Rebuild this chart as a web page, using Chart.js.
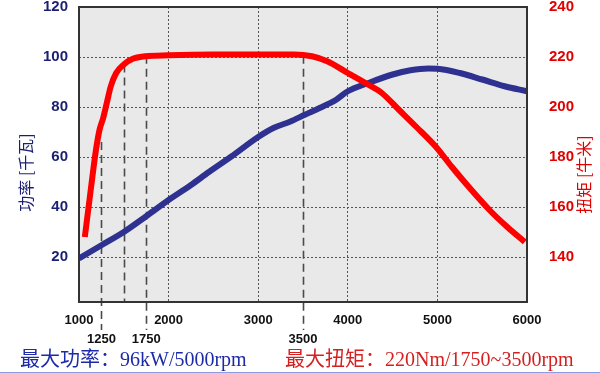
<!DOCTYPE html>
<html>
<head>
<meta charset="utf-8">
<script src="https://cdn.jsdelivr.net/npm/chart.js@4.4.1/dist/chart.umd.min.js"></script>
<style>
    html, body { margin: 0; padding: 0; background: #fff; }
    #wrap { width: 600px; height: 373px; position: relative; }
</style>
</head>
<body>
<div id="wrap"><canvas id="engineChart" width="600" height="373"></canvas></div>
<script>
// Torque curve (Nm, right axis)
const torqueRpm = [1065, 1135, 1190, 1230, 1270, 1310, 1355, 1415, 1500, 1600, 1740, 2000, 2500, 3000, 3400, 3600, 3770, 4000, 4230, 4380, 4570, 4760, 4980, 5160, 5380, 5600, 5780, 5975];
const torqueNm = [148, 168, 183, 191, 195.6, 201.6, 208.3, 213.6, 217, 219.3, 220.3, 220.7, 221, 221, 221, 220.3, 218.3, 213.6, 208.9, 205.6, 198.9, 192.2, 184.2, 176.1, 166.8, 158.1, 152, 146];

// Power curve (kW, left axis)
const powerRpm = [1000, 1250, 1500, 1750, 2000, 2250, 2450, 2700, 3000, 3170, 3360, 3520, 3685, 3870, 4000, 4230, 4500, 4700, 4900, 5000, 5250, 5500, 5750, 6000];
const powerKw = [19.4, 24.7, 30, 36.3, 42.8, 48.8, 54, 60.2, 68, 71.6, 74.2, 76.9, 79.6, 82.9, 86.3, 89.6, 93, 94.7, 95.4, 95.3, 93.6, 91, 88.3, 86.3];

// Axis ticks
const rpmTicks = [1000, 2000, 3000, 4000, 5000, 6000];
const powerTicks = [20, 40, 60, 80, 100, 120];
const torqueTicks = [140, 160, 180, 200, 220, 240];

// Marked rpm points (dashed drop lines) and where they start on the torque curve
const markerRpm = [1250, 1500, 1750, 3500];
const markerTop = [186, 217, 220.5, 220.5];
const markerLabels = ['1250', '', '1750', '3500'];

const powerTitle = '功率 [千瓦]';
const torqueTitle = '扭矩 [牛米]';
const powerNote = '最大功率：96kW/5000rpm';
const torqueNote = '最大扭矩：220Nm/1750~3500rpm';

const BLUE = '#2e3190';
const NAVY = '#1a1f72';
const RED = '#ff0000';
const DARK_RED = '#e00000';

const toPoints = (xs, ys) => xs.map((x, i) => ({ x: x, y: ys[i] }));

// kill the extra room Chart.js keeps for half-height tick labels
const noLabelPad = s => { s.paddingTop = 0; s.paddingBottom = 0; s.paddingLeft = 0; s.paddingRight = 0; };

const decorPlugin = {
    id: 'decor',
    beforeDraw(chart) {
        const { ctx, chartArea: a } = chart;
        ctx.save();
        ctx.fillStyle = '#e9e9e9';
        ctx.fillRect(a.left, a.top, a.right - a.left, a.bottom - a.top);
        ctx.restore();
    },
    beforeDatasetsDraw(chart) {
        // dashed drop lines from torque curve down past the axis
        const { ctx, chartArea: a, scales } = chart;
        ctx.save();
        ctx.strokeStyle = '#4a4a4a';
        ctx.lineWidth = 1.6;
        ctx.setLineDash([8, 5]);
        markerRpm.forEach((rpm, i) => {
            const x = Math.round(scales.x.getPixelForValue(rpm)) + 0.5;
            const top = scales.y2.getPixelForValue(markerTop[i]);
            const bottom = markerLabels[i] ? a.bottom + 28 : a.bottom;
            ctx.beginPath();
            ctx.moveTo(x, top);
            ctx.lineTo(x, bottom);
            ctx.stroke();
        });
        ctx.restore();
    },
    afterDraw(chart) {
        const { ctx, chartArea: a, scales } = chart;
        ctx.save();
        // frame
        ctx.strokeStyle = '#333';
        ctx.lineWidth = 2;
        ctx.strokeRect(a.left, a.top, a.right - a.left, a.bottom - a.top);

        // second row of rpm labels
        ctx.fillStyle = '#111';
        ctx.font = 'bold 13px "Liberation Sans", Arial, sans-serif';
        ctx.textAlign = 'center';
        ctx.textBaseline = 'middle';
        markerRpm.forEach((rpm, i) => {
            if (!markerLabels[i]) return;
            ctx.fillText(markerLabels[i], scales.x.getPixelForValue(rpm), a.bottom + 37);
        });

        // axis titles, both read bottom to top
        ctx.font = '16px "Noto Sans CJK SC", sans-serif';
        ctx.fillStyle = NAVY;
        ctx.translate(26, (a.top + a.bottom) / 2 + 18);
        ctx.rotate(-Math.PI / 2);
        ctx.fillText(powerTitle, 0, 0);
        ctx.setTransform(1, 0, 0, 1, 0, 0);
        ctx.fillStyle = DARK_RED;
        ctx.translate(584, (a.top + a.bottom) / 2 + 20);
        ctx.rotate(-Math.PI / 2);
        ctx.fillText(torqueTitle, 0, 0);
        ctx.setTransform(1, 0, 0, 1, 0, 0);

        // bottom notes
        ctx.textAlign = 'left';
        ctx.font = '20px "Liberation Serif", "Noto Sans CJK SC", serif';
        ctx.fillStyle = '#1d2aa8';
        ctx.fillText(powerNote, 20, 361);
        ctx.fillStyle = '#d42020';
        ctx.fillText(torqueNote, 285, 361);

        // thin rule at the very bottom
        ctx.strokeStyle = '#8c9be0';
        ctx.lineWidth = 1;
        ctx.beginPath();
        ctx.moveTo(0, 372.5);
        ctx.lineTo(600, 372.5);
        ctx.stroke();
        ctx.restore();
    }
};

new Chart(document.getElementById('engineChart'), {
    type: 'line',
    data: {
        datasets: [{
            label: 'Torque',
            data: toPoints(torqueRpm, torqueNm),
            yAxisID: 'y2',
            borderColor: RED,
            borderWidth: 6,
            borderCapStyle: 'butt',
            cubicInterpolationMode: 'monotone',
            pointRadius: 0,
            fill: false
        }, {
            label: 'Power',
            data: toPoints(powerRpm, powerKw),
            yAxisID: 'y',
            borderColor: BLUE,
            borderWidth: 6,
            borderCapStyle: 'butt',
            cubicInterpolationMode: 'monotone',
            pointRadius: 0,
            fill: false
        }]
    },
    options: {
        responsive: false,
        animation: false,
        layout: { padding: { top: 7, left: 0, right: 0, bottom: 0 } },
        plugins: { legend: { display: false }, tooltip: { enabled: false } },
        scales: {
            x: {
                type: 'linear',
                min: 1000,
                max: 6000,
                afterBuildTicks: s => { s.ticks = rpmTicks.map(v => ({ value: v })); },
                afterFit: s => { s.height = 71; noLabelPad(s); },
                grid: { color: '#555', lineWidth: 1, drawTicks: false },
                border: { display: false, dash: [2, 2] },
                ticks: {
                    padding: 11,
                    maxRotation: 0,
                    color: '#111',
                    callback: v => String(v),
                    font: { family: '"Liberation Sans", Arial, sans-serif', size: 13, weight: 'bold' }
                }
            },
            y: {
                position: 'left',
                min: 2,
                max: 120,
                afterBuildTicks: s => { s.ticks = powerTicks.map(v => ({ value: v })); },
                afterFit: s => { s.width = 79; noLabelPad(s); },
                grid: { color: '#555', lineWidth: 1, drawTicks: false },
                border: { display: false, dash: [2, 2] },
                ticks: {
                    padding: 11,
                    color: NAVY,
                    font: { family: '"Liberation Sans", Arial, sans-serif', size: 15, weight: 'bold' }
                }
            },
            y2: {
                position: 'right',
                min: 122,
                max: 240,
                afterBuildTicks: s => { s.ticks = torqueTicks.map(v => ({ value: v })); },
                afterFit: s => { s.width = 73; noLabelPad(s); },
                grid: { display: false },
                border: { display: false },
                ticks: {
                    padding: 14,
                    color: DARK_RED,
                    font: { family: '"Liberation Sans", Arial, sans-serif', size: 15, weight: 'bold' }
                }
            }
        }
    },
    plugins: [decorPlugin]
});
</script>
</body>
</html>
